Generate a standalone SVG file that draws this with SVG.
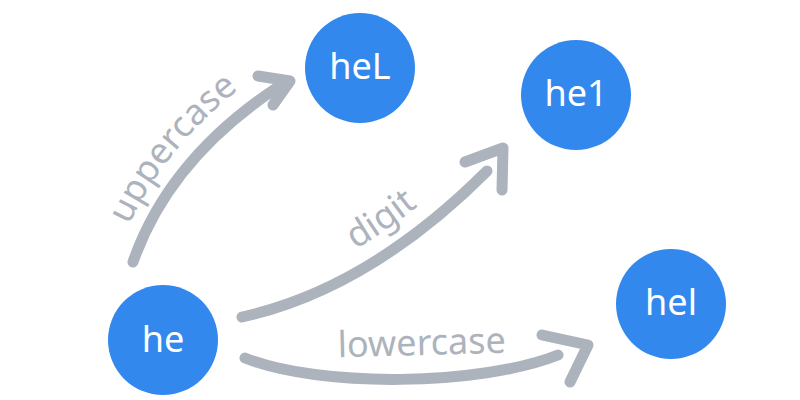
<svg xmlns="http://www.w3.org/2000/svg" width="800" height="400" viewBox="0 0 800 400">
  <style>
    .node { fill: #3388ee; }
    .nlabel { fill: #ffffff; font-family: "Noto Sans", "DejaVu Sans", sans-serif; font-size: 36px; text-anchor: middle; }
    .edge { fill: none; stroke: #adb3bc; stroke-width: 11; stroke-linecap: round; stroke-linejoin: round; }
    .elabel { fill: #adb3bc; font-family: "Noto Sans", "DejaVu Sans", sans-serif; font-size: 36px; text-anchor: middle; }
  </style>
  <defs>
    <path id="p-upper" d="M116,256 Q155,148 258,75"/>
    <path id="p-digit" d="M238,297 Q358,270 472,158"/>
  </defs>
  <g id="connectors">
    <g id="e-upper">
      <path class="edge" d="M133,262 Q169,159 278,87"/>
      <path class="edge" d="M258,76 L290,81 L273,105"/>
      <text class="elabel"><textPath href="#p-upper" startOffset="52%">uppercase</textPath></text>
    </g>
    <g id="e-digit">
      <path class="edge" d="M242,317 Q369,289 487,171"/>
      <path class="edge" d="M465,162 L503,148 L502,190"/>
      <text class="elabel"><textPath href="#p-digit" startOffset="60%">digit</textPath></text>
    </g>
    <g id="e-lower">
      <path class="edge" d="M245,358 C320,388 480,386 558,355"/>
      <path class="edge" d="M542,335 L588,345 L570,382"/>
      <text class="elabel" x="422" y="355" transform="rotate(-1.5 422 355)">lowercase</text>
    </g>
  </g>
  <g id="n-he">
    <circle class="node" cx="163" cy="340" r="55"/>
    <text class="nlabel" x="163" y="352">he</text>
  </g>
  <g id="n-heL">
    <circle class="node" cx="360" cy="68" r="55"/>
    <text class="nlabel" x="360" y="79">heL</text>
  </g>
  <g id="n-he1">
    <circle class="node" cx="576" cy="95" r="55"/>
    <text class="nlabel" x="576" y="106">he1</text>
  </g>
  <g id="n-hel">
    <circle class="node" cx="671" cy="304" r="55"/>
    <text class="nlabel" x="671" y="315">hel</text>
  </g>
</svg>
